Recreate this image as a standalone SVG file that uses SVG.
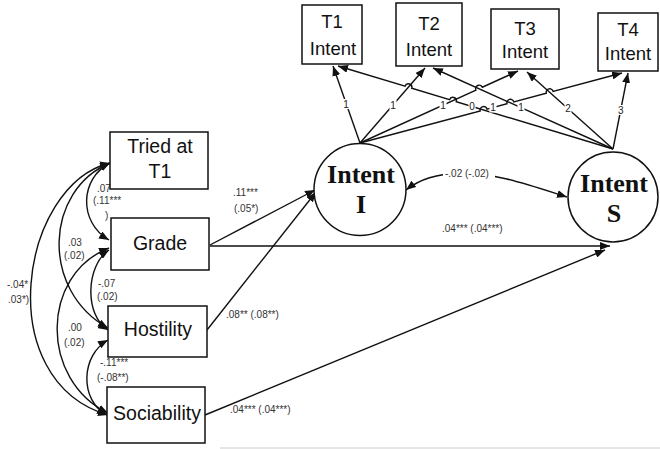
<svg xmlns="http://www.w3.org/2000/svg" width="660" height="449" viewBox="0 0 660 449">
<style>
.box{fill:#fff;stroke:#111;stroke-width:1.5}
.circ{fill:#fff;stroke:#111;stroke-width:1.5}
.bt{font-family:"Liberation Sans",Arial,sans-serif;font-size:19.5px;fill:#111;text-anchor:middle}
.tt{font-family:"Liberation Sans",Arial,sans-serif;font-size:18.5px;fill:#111;text-anchor:middle}
.lt{font-family:"Liberation Serif","Times New Roman",serif;font-size:26px;font-weight:bold;fill:#111;text-anchor:middle}
.sm{font-family:"Liberation Sans",Arial,sans-serif;font-size:10px;fill:#333}
.ld{font-family:"Liberation Sans",Arial,sans-serif;font-size:10px;fill:#222;text-anchor:middle}
.bg{fill:#fff}
.ln{fill:none;stroke:#111;stroke-width:1.4;marker-end:url(#ah)}
.dl{fill:none;stroke:#111;stroke-width:1.4;marker-start:url(#ah);marker-end:url(#ah)}
</style>
<defs>
<marker id="ah" markerUnits="userSpaceOnUse" markerWidth="11" markerHeight="8" refX="10" refY="4" orient="auto-start-reverse" viewBox="0 0 11 8">
<path d="M0,0 L10,4 L0,8 z" fill="#111"/>
</marker>
</defs>
<rect width="660" height="449" fill="#fff"/>
<line x1="220" y1="448" x2="660" y2="448" stroke="#ccc" stroke-width="1"/>

<g id="connectors">
<!-- loadings from Intent I -->
<path class="ln" d="M360,143 L333,66"/>
<path class="ln" d="M360,143 L425,68"/>
<path class="ln" d="M360,143 L475.9,90.15 A3.5,3.5 0 0 1 482.3,87.25 L518,71"/>
<path class="ln" d="M360,143 L480.2,110.9 A3.5,3.5 0 0 1 487,109.1 L507,103.7 A3.5,3.5 0 0 1 513.8,101.9 L546.3,93.2 A3.5,3.5 0 0 1 553.1,91.4 L622,73"/>
<!-- loadings from Intent S -->
<path class="ln" d="M613,149 L456.25,101.7 A3.5,3.5 0 0 0 449.55,99.7 L411.75,88.2 A3.5,3.5 0 0 0 405.05,86.2 L338,66"/>
<path class="ln" d="M613,149 L433,68"/>
<path class="ln" d="M613,149 L527,72"/>
<path class="ln" d="M613,149 L628,73"/>
<!-- loading labels -->
<rect class="bg" x="342.5" y="99" width="7" height="10"/><text class="ld" x="346" y="107.5">1</text>
<rect class="bg" x="389.5" y="100" width="7" height="10"/><text class="ld" x="393" y="108.5">1</text>
<rect class="bg" x="439.5" y="100.2" width="7" height="10"/><text class="ld" x="443" y="108.7">1</text>
<rect class="bg" x="489.5" y="102.5" width="7" height="10"/><text class="ld" x="493" y="111">1</text>
<rect class="bg" x="468.5" y="101.4" width="7" height="10"/><text class="ld" x="472" y="109.9">0</text>
<rect class="bg" x="517.5" y="102.6" width="7" height="10"/><text class="ld" x="521" y="111.1">1</text>
<rect class="bg" x="564.5" y="103.7" width="7" height="10"/><text class="ld" x="568" y="112.2">2</text>
<rect class="bg" x="617.2" y="105" width="7" height="10"/><text class="ld" x="620.7" y="113.5">3</text>

<!-- I <-> S correlation -->
<path class="dl" d="M406,190 C420,179 436,174 462,173 C492,172 532,186 567,197"/>
<rect class="bg" x="443" y="168" width="52" height="12"/>
<text class="sm" x="445" y="177">-.02 (-.02)</text>

<!-- predictors -->
<path class="ln" d="M210,245 L315,190"/>
<path class="ln" d="M207,330 L316,192"/>
<path class="ln" d="M210,246 L610,246"/>
<path class="ln" d="M205,415 L605,250"/>

<!-- left covariances -->
<path class="dl" d="M110,163 C80,178 78,222 109,240"/>
<path class="dl" d="M110,163 C45,190 40,290 108,328"/>
<path class="dl" d="M110,163 C20,185 -10,380 108,415"/>
<path class="dl" d="M109,250 C86,265 84,315 108,330"/>
<path class="dl" d="M109,248 C40,275 40,380 108,413"/>
<path class="dl" d="M108,340 C81,355 79,400 107,415"/>
</g>

<g id="labels">
<text class="sm" x="233" y="196">.11***</text>
<text class="sm" x="234" y="212">(.05*)</text>
<text class="sm" x="442" y="232">.04*** (.04***)</text>
<text class="sm" x="226" y="318">.08** (.08**)</text>
<text class="sm" x="230" y="413">.04***  (.04***)</text>
<text class="sm" x="97" y="192">.07***</text>
<text class="sm" x="93" y="204">(.11***</text>
<text class="sm" x="105" y="219">)</text>
<text class="sm" x="68" y="246">.03</text>
<text class="sm" x="64" y="259">(.02)</text>
<text class="sm" x="98" y="287">-.07</text>
<text class="sm" x="97" y="300">(.02)</text>
<text class="sm" x="68" y="331">.00</text>
<text class="sm" x="64" y="346">(.02)</text>
<text class="sm" x="100" y="366">-.11***</text>
<text class="sm" x="97" y="381">(-.08**)</text>
<text class="sm" x="7" y="288">-.04*</text>
<text class="sm" x="8" y="303">.03*)</text>
</g>

<g id="T1">
<rect class="box" x="302" y="5" width="60" height="59"/>
<text class="tt" x="332" y="28">T1</text>
<text class="tt" x="333" y="55">Intent</text>
</g>
<g id="T2">
<rect class="box" x="396" y="3" width="66" height="63"/>
<text class="tt" x="429" y="30">T2</text>
<text class="tt" x="429" y="56">Intent</text>
</g>
<g id="T3">
<rect class="box" x="491" y="9" width="68" height="60"/>
<text class="tt" x="525" y="35">T3</text>
<text class="tt" x="525" y="58">Intent</text>
</g>
<g id="T4">
<rect class="box" x="598" y="13" width="60" height="58"/>
<text class="tt" x="628" y="36">T4</text>
<text class="tt" x="628" y="60">Intent</text>
</g>

<g id="IntentI">
<circle class="circ" cx="360" cy="189.5" r="46"/>
<text class="lt" x="361" y="183">Intent</text>
<text class="lt" x="361" y="213">I</text>
</g>
<g id="IntentS">
<circle class="circ" cx="613" cy="197" r="45"/>
<text class="lt" x="614" y="192">Intent</text>
<text class="lt" x="614" y="222">S</text>
</g>

<g id="Tried">
<rect class="box" x="110" y="132" width="98" height="57"/>
<text class="bt" x="160" y="153">Tried at</text>
<text class="bt" x="160" y="178">T1</text>
</g>
<g id="Grade">
<rect class="box" x="111" y="218" width="98" height="52"/>
<text class="bt" x="160" y="250">Grade</text>
</g>
<g id="Hostility">
<rect class="box" x="108" y="306" width="99" height="51"/>
<text class="bt" x="158" y="336">Hostility</text>
</g>
<g id="Sociability">
<rect class="box" x="107" y="387" width="98" height="56"/>
<text class="bt" x="157" y="420">Sociability</text>
</g>
</svg>
